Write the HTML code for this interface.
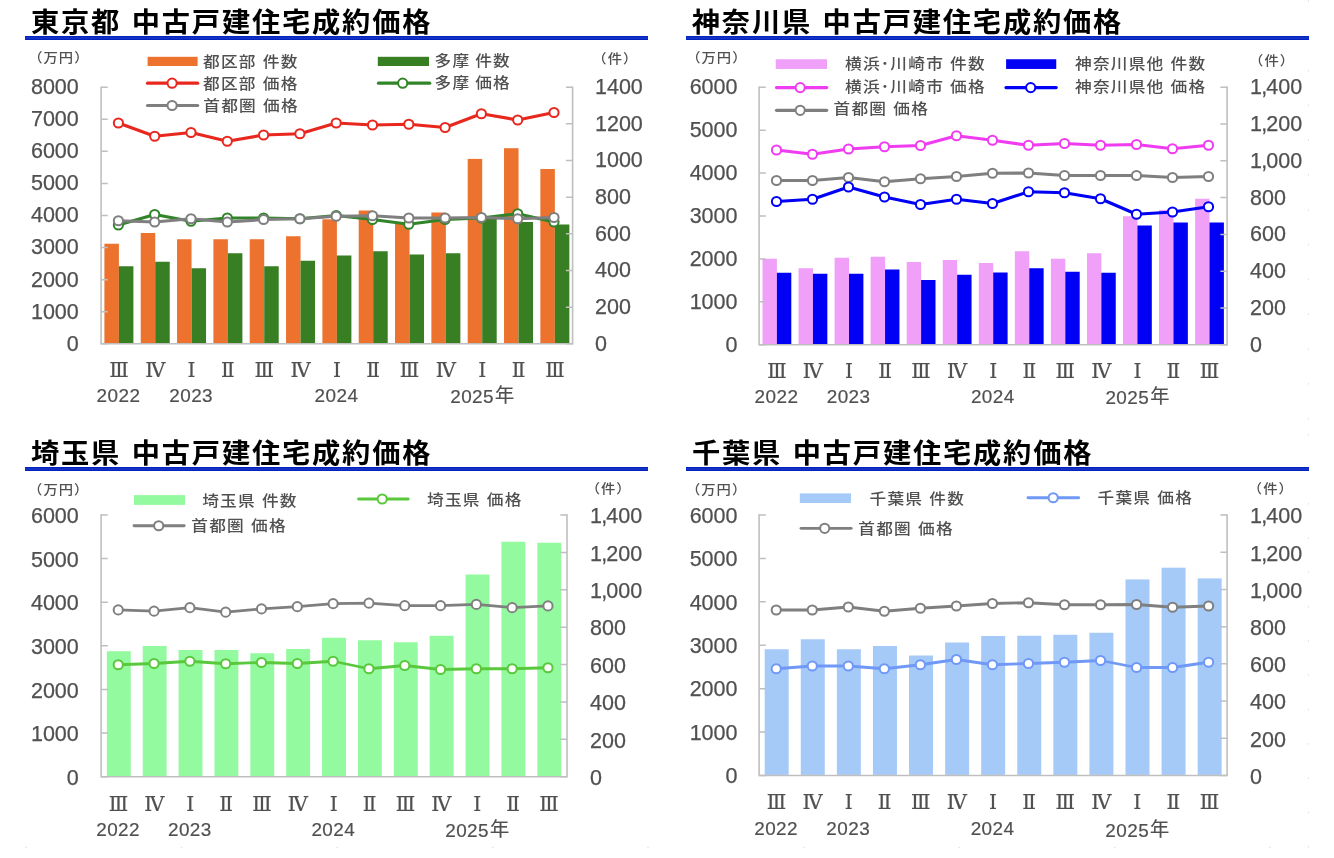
<!DOCTYPE html>
<html lang="ja"><head><meta charset="utf-8"><title>中古戸建住宅成約価格</title>
<style>html,body{margin:0;padding:0;background:#fff;overflow:hidden}svg{display:block}</style></head><body>
<svg width="1334" height="858" viewBox="0 0 1334 858">
<rect width="1334" height="858" fill="#fff"/>
<g>
<text transform="translate(31 32) scale(1.05 1)" font-size="26.9" fill="#000" font-family='"Liberation Sans","Noto Sans CJK JP",sans-serif' font-weight="bold" letter-spacing="1.72" word-spacing="0.9" xml:space="preserve">東京都 中古戸建住宅成約価格</text>
<rect x="25" y="36" width="623" height="4" fill="#0422c0"/>
<rect x="25" y="37" width="623" height="2" fill="#1232c4"/>
<rect x="104.4" y="243.75" width="14.5" height="99.45" fill="#ec722e"/>
<rect x="140.73" y="233" width="14.5" height="110.2" fill="#ec722e"/>
<rect x="177.06" y="239.25" width="14.5" height="103.95" fill="#ec722e"/>
<rect x="213.39" y="239.25" width="14.5" height="103.95" fill="#ec722e"/>
<rect x="249.72" y="239.25" width="14.5" height="103.95" fill="#ec722e"/>
<rect x="286.05" y="236.25" width="14.5" height="106.95" fill="#ec722e"/>
<rect x="322.38" y="219.3" width="14.5" height="123.9" fill="#ec722e"/>
<rect x="358.71" y="210.5" width="14.5" height="132.7" fill="#ec722e"/>
<rect x="395.04" y="223.5" width="14.5" height="119.7" fill="#ec722e"/>
<rect x="431.37" y="212.5" width="14.5" height="130.7" fill="#ec722e"/>
<rect x="467.7" y="158.9" width="14.5" height="184.3" fill="#ec722e"/>
<rect x="504.03" y="148.2" width="14.5" height="195" fill="#ec722e"/>
<rect x="540.36" y="169" width="14.5" height="174.2" fill="#ec722e"/>
<rect x="118.9" y="266.25" width="14.5" height="76.95" fill="#387e22"/>
<rect x="155.23" y="261.75" width="14.5" height="81.45" fill="#387e22"/>
<rect x="191.56" y="268.25" width="14.5" height="74.95" fill="#387e22"/>
<rect x="227.89" y="253.25" width="14.5" height="89.95" fill="#387e22"/>
<rect x="264.22" y="266.25" width="14.5" height="76.95" fill="#387e22"/>
<rect x="300.55" y="260.75" width="14.5" height="82.45" fill="#387e22"/>
<rect x="336.88" y="255.5" width="14.5" height="87.7" fill="#387e22"/>
<rect x="373.21" y="251.25" width="14.5" height="91.95" fill="#387e22"/>
<rect x="409.54" y="254.5" width="14.5" height="88.7" fill="#387e22"/>
<rect x="445.87" y="253.25" width="14.5" height="89.95" fill="#387e22"/>
<rect x="482.2" y="218.75" width="14.5" height="124.45" fill="#387e22"/>
<rect x="518.53" y="222" width="14.5" height="121.2" fill="#387e22"/>
<rect x="554.86" y="224.5" width="14.5" height="118.7" fill="#387e22"/>
<path d="M101.1 86.4V343.8M572.6 86.4V343.8M100.3 343.8H573.4" stroke="#bfbfbf" stroke-width="1.6" fill="none"/>
<path d="M101.1 343.8h6.7M101.1 311.73h6.7M101.1 279.65h6.7M101.1 247.57h6.7M101.1 215.5h6.7M101.1 183.43h6.7M101.1 151.35h6.7M101.1 119.27h6.7M101.1 87.2h6.7M572.6 343.8h-6.7M572.6 307.14h-6.7M572.6 270.49h-6.7M572.6 233.83h-6.7M572.6 197.17h-6.7M572.6 160.51h-6.7M572.6 123.86h-6.7M572.6 87.2h-6.7" stroke="#bfbfbf" stroke-width="1.5" fill="none"/>
<text x="78.8" y="350.7" font-size="21.5" fill="#505050" font-family='"Liberation Sans","Noto Sans CJK JP",sans-serif' text-anchor="end" stroke="#505050" stroke-width="0.25">0</text>
<text x="78.8" y="318.62" font-size="21.5" fill="#505050" font-family='"Liberation Sans","Noto Sans CJK JP",sans-serif' text-anchor="end" stroke="#505050" stroke-width="0.25">1000</text>
<text x="78.8" y="286.55" font-size="21.5" fill="#505050" font-family='"Liberation Sans","Noto Sans CJK JP",sans-serif' text-anchor="end" stroke="#505050" stroke-width="0.25">2000</text>
<text x="78.8" y="254.47" font-size="21.5" fill="#505050" font-family='"Liberation Sans","Noto Sans CJK JP",sans-serif' text-anchor="end" stroke="#505050" stroke-width="0.25">3000</text>
<text x="78.8" y="222.4" font-size="21.5" fill="#505050" font-family='"Liberation Sans","Noto Sans CJK JP",sans-serif' text-anchor="end" stroke="#505050" stroke-width="0.25">4000</text>
<text x="78.8" y="190.33" font-size="21.5" fill="#505050" font-family='"Liberation Sans","Noto Sans CJK JP",sans-serif' text-anchor="end" stroke="#505050" stroke-width="0.25">5000</text>
<text x="78.8" y="158.25" font-size="21.5" fill="#505050" font-family='"Liberation Sans","Noto Sans CJK JP",sans-serif' text-anchor="end" stroke="#505050" stroke-width="0.25">6000</text>
<text x="78.8" y="126.17" font-size="21.5" fill="#505050" font-family='"Liberation Sans","Noto Sans CJK JP",sans-serif' text-anchor="end" stroke="#505050" stroke-width="0.25">7000</text>
<text x="78.8" y="94.1" font-size="21.5" fill="#505050" font-family='"Liberation Sans","Noto Sans CJK JP",sans-serif' text-anchor="end" stroke="#505050" stroke-width="0.25">8000</text>
<text x="595" y="350.7" font-size="21.5" fill="#505050" font-family='"Liberation Sans","Noto Sans CJK JP",sans-serif' stroke="#505050" stroke-width="0.25">0</text>
<text x="595" y="314.04" font-size="21.5" fill="#505050" font-family='"Liberation Sans","Noto Sans CJK JP",sans-serif' stroke="#505050" stroke-width="0.25">200</text>
<text x="595" y="277.39" font-size="21.5" fill="#505050" font-family='"Liberation Sans","Noto Sans CJK JP",sans-serif' stroke="#505050" stroke-width="0.25">400</text>
<text x="595" y="240.73" font-size="21.5" fill="#505050" font-family='"Liberation Sans","Noto Sans CJK JP",sans-serif' stroke="#505050" stroke-width="0.25">600</text>
<text x="595" y="204.07" font-size="21.5" fill="#505050" font-family='"Liberation Sans","Noto Sans CJK JP",sans-serif' stroke="#505050" stroke-width="0.25">800</text>
<text x="595" y="167.41" font-size="21.5" fill="#505050" font-family='"Liberation Sans","Noto Sans CJK JP",sans-serif' stroke="#505050" stroke-width="0.25">1000</text>
<text x="595" y="130.76" font-size="21.5" fill="#505050" font-family='"Liberation Sans","Noto Sans CJK JP",sans-serif' stroke="#505050" stroke-width="0.25">1200</text>
<text x="595" y="94.1" font-size="21.5" fill="#505050" font-family='"Liberation Sans","Noto Sans CJK JP",sans-serif' stroke="#505050" stroke-width="0.25">1400</text>
<text transform="translate(28.2 61.7) scale(1.1 1)" font-size="13" fill="#505050" font-family='"Liberation Sans","Noto Sans CJK JP",sans-serif' font-weight="500" letter-spacing="0.95">（万円）</text>
<text transform="translate(592.3 62.6) scale(1.1 1)" font-size="13" fill="#505050" font-family='"Liberation Sans","Noto Sans CJK JP",sans-serif' font-weight="500" letter-spacing="0.95">（件）</text>
<text x="118.9" y="376.6" font-size="20.2" fill="#505050" font-family='"DejaVu Serif","Noto Serif CJK SC",serif' text-anchor="middle" stroke="#505050" stroke-width="0.2">Ⅲ</text>
<text x="155.23" y="376.6" font-size="20.2" fill="#505050" font-family='"DejaVu Serif","Noto Serif CJK SC",serif' text-anchor="middle" stroke="#505050" stroke-width="0.2">Ⅳ</text>
<text x="191.56" y="376.6" font-size="20.2" fill="#505050" font-family='"DejaVu Serif","Noto Serif CJK SC",serif' text-anchor="middle" stroke="#505050" stroke-width="0.2">Ⅰ</text>
<text x="227.89" y="376.6" font-size="20.2" fill="#505050" font-family='"DejaVu Serif","Noto Serif CJK SC",serif' text-anchor="middle" stroke="#505050" stroke-width="0.2">Ⅱ</text>
<text x="264.22" y="376.6" font-size="20.2" fill="#505050" font-family='"DejaVu Serif","Noto Serif CJK SC",serif' text-anchor="middle" stroke="#505050" stroke-width="0.2">Ⅲ</text>
<text x="300.55" y="376.6" font-size="20.2" fill="#505050" font-family='"DejaVu Serif","Noto Serif CJK SC",serif' text-anchor="middle" stroke="#505050" stroke-width="0.2">Ⅳ</text>
<text x="336.88" y="376.6" font-size="20.2" fill="#505050" font-family='"DejaVu Serif","Noto Serif CJK SC",serif' text-anchor="middle" stroke="#505050" stroke-width="0.2">Ⅰ</text>
<text x="373.21" y="376.6" font-size="20.2" fill="#505050" font-family='"DejaVu Serif","Noto Serif CJK SC",serif' text-anchor="middle" stroke="#505050" stroke-width="0.2">Ⅱ</text>
<text x="409.54" y="376.6" font-size="20.2" fill="#505050" font-family='"DejaVu Serif","Noto Serif CJK SC",serif' text-anchor="middle" stroke="#505050" stroke-width="0.2">Ⅲ</text>
<text x="445.87" y="376.6" font-size="20.2" fill="#505050" font-family='"DejaVu Serif","Noto Serif CJK SC",serif' text-anchor="middle" stroke="#505050" stroke-width="0.2">Ⅳ</text>
<text x="482.2" y="376.6" font-size="20.2" fill="#505050" font-family='"DejaVu Serif","Noto Serif CJK SC",serif' text-anchor="middle" stroke="#505050" stroke-width="0.2">Ⅰ</text>
<text x="518.53" y="376.6" font-size="20.2" fill="#505050" font-family='"DejaVu Serif","Noto Serif CJK SC",serif' text-anchor="middle" stroke="#505050" stroke-width="0.2">Ⅱ</text>
<text x="554.86" y="376.6" font-size="20.2" fill="#505050" font-family='"DejaVu Serif","Noto Serif CJK SC",serif' text-anchor="middle" stroke="#505050" stroke-width="0.2">Ⅲ</text>
<text x="118.5" y="401.9" font-size="18.9" fill="#505050" font-family='"Liberation Sans","Noto Sans CJK JP",sans-serif' text-anchor="middle" letter-spacing="0.45" stroke="#505050" stroke-width="0.2">2022</text>
<text x="191.16" y="401.9" font-size="18.9" fill="#505050" font-family='"Liberation Sans","Noto Sans CJK JP",sans-serif' text-anchor="middle" letter-spacing="0.45" stroke="#505050" stroke-width="0.2">2023</text>
<text x="336.48" y="401.9" font-size="18.9" fill="#505050" font-family='"Liberation Sans","Noto Sans CJK JP",sans-serif' text-anchor="middle" letter-spacing="0.45" stroke="#505050" stroke-width="0.2">2024</text>
<text x="482.4" y="403.3" font-size="18.9" fill="#505050" font-family='"Liberation Sans","Noto Sans CJK JP",sans-serif' text-anchor="middle" letter-spacing="0.45" stroke="#505050" stroke-width="0.2">2025<tspan font-size="19.2" dx="0.9" dy="-1">年</tspan></text>
<polyline points="118.4,123 154.7,136.25 191,132.5 227.3,141.25 263.6,135 299.9,133.75 336.2,123 372.5,125 408.8,124.25 445.1,127.5 481.4,113.75 517.7,120 554,112.5" fill="none" stroke="#e8281e" stroke-width="3.2" stroke-linejoin="round" stroke-linecap="round"/>
<circle cx="118.4" cy="123" r="4.6" fill="#fff" stroke="#e8281e" stroke-width="2"/>
<circle cx="154.7" cy="136.25" r="4.6" fill="#fff" stroke="#e8281e" stroke-width="2"/>
<circle cx="191" cy="132.5" r="4.6" fill="#fff" stroke="#e8281e" stroke-width="2"/>
<circle cx="227.3" cy="141.25" r="4.6" fill="#fff" stroke="#e8281e" stroke-width="2"/>
<circle cx="263.6" cy="135" r="4.6" fill="#fff" stroke="#e8281e" stroke-width="2"/>
<circle cx="299.9" cy="133.75" r="4.6" fill="#fff" stroke="#e8281e" stroke-width="2"/>
<circle cx="336.2" cy="123" r="4.6" fill="#fff" stroke="#e8281e" stroke-width="2"/>
<circle cx="372.5" cy="125" r="4.6" fill="#fff" stroke="#e8281e" stroke-width="2"/>
<circle cx="408.8" cy="124.25" r="4.6" fill="#fff" stroke="#e8281e" stroke-width="2"/>
<circle cx="445.1" cy="127.5" r="4.6" fill="#fff" stroke="#e8281e" stroke-width="2"/>
<circle cx="481.4" cy="113.75" r="4.6" fill="#fff" stroke="#e8281e" stroke-width="2"/>
<circle cx="517.7" cy="120" r="4.6" fill="#fff" stroke="#e8281e" stroke-width="2"/>
<circle cx="554" cy="112.5" r="4.6" fill="#fff" stroke="#e8281e" stroke-width="2"/>
<polyline points="118.4,225 154.7,214.5 191,221.25 227.3,218 263.6,218 299.9,218.75 336.2,215.5 372.5,219.5 408.8,224.25 445.1,219.5 481.4,218 517.7,213.75 554,222" fill="none" stroke="#32842a" stroke-width="3.2" stroke-linejoin="round" stroke-linecap="round"/>
<circle cx="118.4" cy="225" r="4.6" fill="#fff" stroke="#32842a" stroke-width="2"/>
<circle cx="154.7" cy="214.5" r="4.6" fill="#fff" stroke="#32842a" stroke-width="2"/>
<circle cx="191" cy="221.25" r="4.6" fill="#fff" stroke="#32842a" stroke-width="2"/>
<circle cx="227.3" cy="218" r="4.6" fill="#fff" stroke="#32842a" stroke-width="2"/>
<circle cx="263.6" cy="218" r="4.6" fill="#fff" stroke="#32842a" stroke-width="2"/>
<circle cx="299.9" cy="218.75" r="4.6" fill="#fff" stroke="#32842a" stroke-width="2"/>
<circle cx="336.2" cy="215.5" r="4.6" fill="#fff" stroke="#32842a" stroke-width="2"/>
<circle cx="372.5" cy="219.5" r="4.6" fill="#fff" stroke="#32842a" stroke-width="2"/>
<circle cx="408.8" cy="224.25" r="4.6" fill="#fff" stroke="#32842a" stroke-width="2"/>
<circle cx="445.1" cy="219.5" r="4.6" fill="#fff" stroke="#32842a" stroke-width="2"/>
<circle cx="481.4" cy="218" r="4.6" fill="#fff" stroke="#32842a" stroke-width="2"/>
<circle cx="517.7" cy="213.75" r="4.6" fill="#fff" stroke="#32842a" stroke-width="2"/>
<circle cx="554" cy="222" r="4.6" fill="#fff" stroke="#32842a" stroke-width="2"/>
<polyline points="118.4,220.75 154.7,222 191,218.75 227.3,222 263.6,219.5 299.9,218.75 336.2,216.25 372.5,215.75 408.8,218 445.1,218 481.4,217.5 517.7,218.75 554,217.5" fill="none" stroke="#7f7f7f" stroke-width="3.2" stroke-linejoin="round" stroke-linecap="round"/>
<circle cx="118.4" cy="220.75" r="4.6" fill="#fff" stroke="#7f7f7f" stroke-width="2"/>
<circle cx="154.7" cy="222" r="4.6" fill="#fff" stroke="#7f7f7f" stroke-width="2"/>
<circle cx="191" cy="218.75" r="4.6" fill="#fff" stroke="#7f7f7f" stroke-width="2"/>
<circle cx="227.3" cy="222" r="4.6" fill="#fff" stroke="#7f7f7f" stroke-width="2"/>
<circle cx="263.6" cy="219.5" r="4.6" fill="#fff" stroke="#7f7f7f" stroke-width="2"/>
<circle cx="299.9" cy="218.75" r="4.6" fill="#fff" stroke="#7f7f7f" stroke-width="2"/>
<circle cx="336.2" cy="216.25" r="4.6" fill="#fff" stroke="#7f7f7f" stroke-width="2"/>
<circle cx="372.5" cy="215.75" r="4.6" fill="#fff" stroke="#7f7f7f" stroke-width="2"/>
<circle cx="408.8" cy="218" r="4.6" fill="#fff" stroke="#7f7f7f" stroke-width="2"/>
<circle cx="445.1" cy="218" r="4.6" fill="#fff" stroke="#7f7f7f" stroke-width="2"/>
<circle cx="481.4" cy="217.5" r="4.6" fill="#fff" stroke="#7f7f7f" stroke-width="2"/>
<circle cx="517.7" cy="218.75" r="4.6" fill="#fff" stroke="#7f7f7f" stroke-width="2"/>
<circle cx="554" cy="217.5" r="4.6" fill="#fff" stroke="#7f7f7f" stroke-width="2"/>
<rect x="147.6" y="56.8" width="50" height="9.2" fill="#ec722e"/>
<text transform="translate(203 66.9) scale(1.09 1)" font-size="15.3" fill="#505050" font-family='"Liberation Sans","Noto Sans CJK JP",sans-serif' font-weight="500" letter-spacing="1.12" word-spacing="0.2" xml:space="preserve">都区部 件数</text>
<rect x="377.8" y="56.8" width="51.2" height="9.2" fill="#387e22"/>
<text transform="translate(434.6 66.2) scale(1.09 1)" font-size="15.3" fill="#505050" font-family='"Liberation Sans","Noto Sans CJK JP",sans-serif' font-weight="500" letter-spacing="1.12" word-spacing="-1" xml:space="preserve">多摩 件数</text>
<line x1="147.5" y1="83.2" x2="197.7" y2="83.2" stroke="#e8281e" stroke-width="3.2" stroke-linecap="round"/>
<circle cx="172.1" cy="83.2" r="4.6" fill="#fff" stroke="#e8281e" stroke-width="2"/>
<text transform="translate(203 88.7) scale(1.09 1)" font-size="15.3" fill="#505050" font-family='"Liberation Sans","Noto Sans CJK JP",sans-serif' font-weight="500" letter-spacing="1.12" word-spacing="0.2" xml:space="preserve">都区部 価格</text>
<line x1="378.5" y1="83.2" x2="429.7" y2="83.2" stroke="#32842a" stroke-width="3.2" stroke-linecap="round"/>
<circle cx="402.7" cy="83.2" r="4.6" fill="#fff" stroke="#32842a" stroke-width="2"/>
<text transform="translate(434.6 88) scale(1.09 1)" font-size="15.3" fill="#505050" font-family='"Liberation Sans","Noto Sans CJK JP",sans-serif' font-weight="500" letter-spacing="1.12" word-spacing="-1" xml:space="preserve">多摩 価格</text>
<line x1="147.5" y1="105.5" x2="197.7" y2="105.5" stroke="#7f7f7f" stroke-width="3.2" stroke-linecap="round"/>
<circle cx="172.1" cy="105.5" r="4.6" fill="#fff" stroke="#7f7f7f" stroke-width="2"/>
<text transform="translate(203.3 111) scale(1.09 1)" font-size="15.3" fill="#505050" font-family='"Liberation Sans","Noto Sans CJK JP",sans-serif' font-weight="500" letter-spacing="1.12" word-spacing="0.2" xml:space="preserve">首都圏 価格</text>
</g>
<g>
<text transform="translate(691.8 32) scale(1.05 1)" font-size="26.9" fill="#000" font-family='"Liberation Sans","Noto Sans CJK JP",sans-serif' font-weight="bold" letter-spacing="1.72" word-spacing="0.9" xml:space="preserve">神奈川県 中古戸建住宅成約価格</text>
<rect x="686" y="36" width="623" height="4" fill="#0422c0"/>
<rect x="686" y="37" width="623" height="2" fill="#1232c4"/>
<rect x="762.5" y="258.75" width="14.4" height="85.45" fill="#f0a0f8"/>
<rect x="798.55" y="268.25" width="14.4" height="75.95" fill="#f0a0f8"/>
<rect x="834.6" y="257.75" width="14.4" height="86.45" fill="#f0a0f8"/>
<rect x="870.65" y="256.75" width="14.4" height="87.45" fill="#f0a0f8"/>
<rect x="906.7" y="262" width="14.4" height="82.2" fill="#f0a0f8"/>
<rect x="942.75" y="260" width="14.4" height="84.2" fill="#f0a0f8"/>
<rect x="978.8" y="263" width="14.4" height="81.2" fill="#f0a0f8"/>
<rect x="1014.85" y="251.25" width="14.4" height="92.95" fill="#f0a0f8"/>
<rect x="1050.9" y="258.75" width="14.4" height="85.45" fill="#f0a0f8"/>
<rect x="1086.95" y="253.25" width="14.4" height="90.95" fill="#f0a0f8"/>
<rect x="1123" y="216.25" width="14.4" height="127.95" fill="#f0a0f8"/>
<rect x="1159.05" y="210" width="14.4" height="134.2" fill="#f0a0f8"/>
<rect x="1195.1" y="198.75" width="14.4" height="145.45" fill="#f0a0f8"/>
<rect x="776.9" y="272.75" width="14.4" height="71.45" fill="#0000f5"/>
<rect x="812.95" y="273.75" width="14.4" height="70.45" fill="#0000f5"/>
<rect x="849" y="273.75" width="14.4" height="70.45" fill="#0000f5"/>
<rect x="885.05" y="269.5" width="14.4" height="74.7" fill="#0000f5"/>
<rect x="921.1" y="280" width="14.4" height="64.2" fill="#0000f5"/>
<rect x="957.15" y="274.75" width="14.4" height="69.45" fill="#0000f5"/>
<rect x="993.2" y="272.5" width="14.4" height="71.7" fill="#0000f5"/>
<rect x="1029.25" y="268.25" width="14.4" height="75.95" fill="#0000f5"/>
<rect x="1065.3" y="271.75" width="14.4" height="72.45" fill="#0000f5"/>
<rect x="1101.35" y="272.75" width="14.4" height="71.45" fill="#0000f5"/>
<rect x="1137.4" y="225.5" width="14.4" height="118.7" fill="#0000f5"/>
<rect x="1173.45" y="222.5" width="14.4" height="121.7" fill="#0000f5"/>
<rect x="1209.5" y="222.5" width="14.4" height="121.7" fill="#0000f5"/>
<path d="M759.1 86.4V344.8M1227.1 86.4V344.8M758.3 344.8H1227.9" stroke="#bfbfbf" stroke-width="1.6" fill="none"/>
<path d="M759.1 344.8h6.7M759.1 301.87h6.7M759.1 258.93h6.7M759.1 216h6.7M759.1 173.07h6.7M759.1 130.13h6.7M759.1 87.2h6.7M1227.1 344.8h-6.7M1227.1 308h-6.7M1227.1 271.2h-6.7M1227.1 234.4h-6.7M1227.1 197.6h-6.7M1227.1 160.8h-6.7M1227.1 124h-6.7M1227.1 87.2h-6.7" stroke="#bfbfbf" stroke-width="1.5" fill="none"/>
<text x="737.5" y="351.7" font-size="21.5" fill="#505050" font-family='"Liberation Sans","Noto Sans CJK JP",sans-serif' text-anchor="end" stroke="#505050" stroke-width="0.25">0</text>
<text x="737.5" y="308.77" font-size="21.5" fill="#505050" font-family='"Liberation Sans","Noto Sans CJK JP",sans-serif' text-anchor="end" stroke="#505050" stroke-width="0.25">1000</text>
<text x="737.5" y="265.83" font-size="21.5" fill="#505050" font-family='"Liberation Sans","Noto Sans CJK JP",sans-serif' text-anchor="end" stroke="#505050" stroke-width="0.25">2000</text>
<text x="737.5" y="222.9" font-size="21.5" fill="#505050" font-family='"Liberation Sans","Noto Sans CJK JP",sans-serif' text-anchor="end" stroke="#505050" stroke-width="0.25">3000</text>
<text x="737.5" y="179.97" font-size="21.5" fill="#505050" font-family='"Liberation Sans","Noto Sans CJK JP",sans-serif' text-anchor="end" stroke="#505050" stroke-width="0.25">4000</text>
<text x="737.5" y="137.03" font-size="21.5" fill="#505050" font-family='"Liberation Sans","Noto Sans CJK JP",sans-serif' text-anchor="end" stroke="#505050" stroke-width="0.25">5000</text>
<text x="737.5" y="94.1" font-size="21.5" fill="#505050" font-family='"Liberation Sans","Noto Sans CJK JP",sans-serif' text-anchor="end" stroke="#505050" stroke-width="0.25">6000</text>
<text x="1250" y="351.7" font-size="21.5" fill="#505050" font-family='"Liberation Sans","Noto Sans CJK JP",sans-serif' stroke="#505050" stroke-width="0.25">0</text>
<text x="1250" y="314.9" font-size="21.5" fill="#505050" font-family='"Liberation Sans","Noto Sans CJK JP",sans-serif' stroke="#505050" stroke-width="0.25">200</text>
<text x="1250" y="278.1" font-size="21.5" fill="#505050" font-family='"Liberation Sans","Noto Sans CJK JP",sans-serif' stroke="#505050" stroke-width="0.25">400</text>
<text x="1250" y="241.3" font-size="21.5" fill="#505050" font-family='"Liberation Sans","Noto Sans CJK JP",sans-serif' stroke="#505050" stroke-width="0.25">600</text>
<text x="1250" y="204.5" font-size="21.5" fill="#505050" font-family='"Liberation Sans","Noto Sans CJK JP",sans-serif' stroke="#505050" stroke-width="0.25">800</text>
<text x="1250" y="167.7" font-size="21.5" fill="#505050" font-family='"Liberation Sans","Noto Sans CJK JP",sans-serif' stroke="#505050" stroke-width="0.25">1<tspan dx="-0.7">,</tspan><tspan dx="-0.9">000</tspan></text>
<text x="1250" y="130.9" font-size="21.5" fill="#505050" font-family='"Liberation Sans","Noto Sans CJK JP",sans-serif' stroke="#505050" stroke-width="0.25">1<tspan dx="-0.7">,</tspan><tspan dx="-0.9">200</tspan></text>
<text x="1250" y="94.1" font-size="21.5" fill="#505050" font-family='"Liberation Sans","Noto Sans CJK JP",sans-serif' stroke="#505050" stroke-width="0.25">1<tspan dx="-0.7">,</tspan><tspan dx="-0.9">400</tspan></text>
<text transform="translate(686.2 61.8) scale(1.1 1)" font-size="13" fill="#505050" font-family='"Liberation Sans","Noto Sans CJK JP",sans-serif' font-weight="500" letter-spacing="0.95">（万円）</text>
<text transform="translate(1249.1 65.4) scale(1.1 1)" font-size="13" fill="#505050" font-family='"Liberation Sans","Noto Sans CJK JP",sans-serif' font-weight="500" letter-spacing="0.95">（件）</text>
<text x="776.9" y="377.5" font-size="20.2" fill="#505050" font-family='"DejaVu Serif","Noto Serif CJK SC",serif' text-anchor="middle" stroke="#505050" stroke-width="0.2">Ⅲ</text>
<text x="812.95" y="377.5" font-size="20.2" fill="#505050" font-family='"DejaVu Serif","Noto Serif CJK SC",serif' text-anchor="middle" stroke="#505050" stroke-width="0.2">Ⅳ</text>
<text x="849" y="377.5" font-size="20.2" fill="#505050" font-family='"DejaVu Serif","Noto Serif CJK SC",serif' text-anchor="middle" stroke="#505050" stroke-width="0.2">Ⅰ</text>
<text x="885.05" y="377.5" font-size="20.2" fill="#505050" font-family='"DejaVu Serif","Noto Serif CJK SC",serif' text-anchor="middle" stroke="#505050" stroke-width="0.2">Ⅱ</text>
<text x="921.1" y="377.5" font-size="20.2" fill="#505050" font-family='"DejaVu Serif","Noto Serif CJK SC",serif' text-anchor="middle" stroke="#505050" stroke-width="0.2">Ⅲ</text>
<text x="957.15" y="377.5" font-size="20.2" fill="#505050" font-family='"DejaVu Serif","Noto Serif CJK SC",serif' text-anchor="middle" stroke="#505050" stroke-width="0.2">Ⅳ</text>
<text x="993.2" y="377.5" font-size="20.2" fill="#505050" font-family='"DejaVu Serif","Noto Serif CJK SC",serif' text-anchor="middle" stroke="#505050" stroke-width="0.2">Ⅰ</text>
<text x="1029.25" y="377.5" font-size="20.2" fill="#505050" font-family='"DejaVu Serif","Noto Serif CJK SC",serif' text-anchor="middle" stroke="#505050" stroke-width="0.2">Ⅱ</text>
<text x="1065.3" y="377.5" font-size="20.2" fill="#505050" font-family='"DejaVu Serif","Noto Serif CJK SC",serif' text-anchor="middle" stroke="#505050" stroke-width="0.2">Ⅲ</text>
<text x="1101.35" y="377.5" font-size="20.2" fill="#505050" font-family='"DejaVu Serif","Noto Serif CJK SC",serif' text-anchor="middle" stroke="#505050" stroke-width="0.2">Ⅳ</text>
<text x="1137.4" y="377.5" font-size="20.2" fill="#505050" font-family='"DejaVu Serif","Noto Serif CJK SC",serif' text-anchor="middle" stroke="#505050" stroke-width="0.2">Ⅰ</text>
<text x="1173.45" y="377.5" font-size="20.2" fill="#505050" font-family='"DejaVu Serif","Noto Serif CJK SC",serif' text-anchor="middle" stroke="#505050" stroke-width="0.2">Ⅱ</text>
<text x="1209.5" y="377.5" font-size="20.2" fill="#505050" font-family='"DejaVu Serif","Noto Serif CJK SC",serif' text-anchor="middle" stroke="#505050" stroke-width="0.2">Ⅲ</text>
<text x="776.5" y="403" font-size="18.9" fill="#505050" font-family='"Liberation Sans","Noto Sans CJK JP",sans-serif' text-anchor="middle" letter-spacing="0.45" stroke="#505050" stroke-width="0.2">2022</text>
<text x="848.6" y="403" font-size="18.9" fill="#505050" font-family='"Liberation Sans","Noto Sans CJK JP",sans-serif' text-anchor="middle" letter-spacing="0.45" stroke="#505050" stroke-width="0.2">2023</text>
<text x="992.8" y="403" font-size="18.9" fill="#505050" font-family='"Liberation Sans","Noto Sans CJK JP",sans-serif' text-anchor="middle" letter-spacing="0.45" stroke="#505050" stroke-width="0.2">2024</text>
<text x="1137.6" y="404.4" font-size="18.9" fill="#505050" font-family='"Liberation Sans","Noto Sans CJK JP",sans-serif' text-anchor="middle" letter-spacing="0.45" stroke="#505050" stroke-width="0.2">2025<tspan font-size="19.2" dx="0.9" dy="-1">年</tspan></text>
<polyline points="776.5,150 812.5,154.25 848.5,149 884.5,146.75 920.5,145.5 956.5,135.75 992.5,140.25 1028.5,145.25 1064.5,143.5 1100.5,145.25 1136.5,144.5 1172.5,148.75 1208.5,145.25" fill="none" stroke="#f03cf0" stroke-width="3.2" stroke-linejoin="round" stroke-linecap="round"/>
<circle cx="776.5" cy="150" r="4.6" fill="#fff" stroke="#f03cf0" stroke-width="2"/>
<circle cx="812.5" cy="154.25" r="4.6" fill="#fff" stroke="#f03cf0" stroke-width="2"/>
<circle cx="848.5" cy="149" r="4.6" fill="#fff" stroke="#f03cf0" stroke-width="2"/>
<circle cx="884.5" cy="146.75" r="4.6" fill="#fff" stroke="#f03cf0" stroke-width="2"/>
<circle cx="920.5" cy="145.5" r="4.6" fill="#fff" stroke="#f03cf0" stroke-width="2"/>
<circle cx="956.5" cy="135.75" r="4.6" fill="#fff" stroke="#f03cf0" stroke-width="2"/>
<circle cx="992.5" cy="140.25" r="4.6" fill="#fff" stroke="#f03cf0" stroke-width="2"/>
<circle cx="1028.5" cy="145.25" r="4.6" fill="#fff" stroke="#f03cf0" stroke-width="2"/>
<circle cx="1064.5" cy="143.5" r="4.6" fill="#fff" stroke="#f03cf0" stroke-width="2"/>
<circle cx="1100.5" cy="145.25" r="4.6" fill="#fff" stroke="#f03cf0" stroke-width="2"/>
<circle cx="1136.5" cy="144.5" r="4.6" fill="#fff" stroke="#f03cf0" stroke-width="2"/>
<circle cx="1172.5" cy="148.75" r="4.6" fill="#fff" stroke="#f03cf0" stroke-width="2"/>
<circle cx="1208.5" cy="145.25" r="4.6" fill="#fff" stroke="#f03cf0" stroke-width="2"/>
<polyline points="776.5,180.5 812.5,180.5 848.5,177.5 884.5,181.75 920.5,178.75 956.5,176.5 992.5,173.25 1028.5,173 1064.5,175.5 1100.5,175.5 1136.5,175.5 1172.5,177.5 1208.5,176.5" fill="none" stroke="#7f7f7f" stroke-width="3.2" stroke-linejoin="round" stroke-linecap="round"/>
<circle cx="776.5" cy="180.5" r="4.6" fill="#fff" stroke="#7f7f7f" stroke-width="2"/>
<circle cx="812.5" cy="180.5" r="4.6" fill="#fff" stroke="#7f7f7f" stroke-width="2"/>
<circle cx="848.5" cy="177.5" r="4.6" fill="#fff" stroke="#7f7f7f" stroke-width="2"/>
<circle cx="884.5" cy="181.75" r="4.6" fill="#fff" stroke="#7f7f7f" stroke-width="2"/>
<circle cx="920.5" cy="178.75" r="4.6" fill="#fff" stroke="#7f7f7f" stroke-width="2"/>
<circle cx="956.5" cy="176.5" r="4.6" fill="#fff" stroke="#7f7f7f" stroke-width="2"/>
<circle cx="992.5" cy="173.25" r="4.6" fill="#fff" stroke="#7f7f7f" stroke-width="2"/>
<circle cx="1028.5" cy="173" r="4.6" fill="#fff" stroke="#7f7f7f" stroke-width="2"/>
<circle cx="1064.5" cy="175.5" r="4.6" fill="#fff" stroke="#7f7f7f" stroke-width="2"/>
<circle cx="1100.5" cy="175.5" r="4.6" fill="#fff" stroke="#7f7f7f" stroke-width="2"/>
<circle cx="1136.5" cy="175.5" r="4.6" fill="#fff" stroke="#7f7f7f" stroke-width="2"/>
<circle cx="1172.5" cy="177.5" r="4.6" fill="#fff" stroke="#7f7f7f" stroke-width="2"/>
<circle cx="1208.5" cy="176.5" r="4.6" fill="#fff" stroke="#7f7f7f" stroke-width="2"/>
<polyline points="776.5,201.5 812.5,199.25 848.5,187 884.5,197 920.5,204.5 956.5,199.25 992.5,203.5 1028.5,191.75 1064.5,192.75 1100.5,198.75 1136.5,214.25 1172.5,212 1208.5,206.75" fill="none" stroke="#0000f5" stroke-width="3.2" stroke-linejoin="round" stroke-linecap="round"/>
<circle cx="776.5" cy="201.5" r="4.6" fill="#fff" stroke="#0000f5" stroke-width="2"/>
<circle cx="812.5" cy="199.25" r="4.6" fill="#fff" stroke="#0000f5" stroke-width="2"/>
<circle cx="848.5" cy="187" r="4.6" fill="#fff" stroke="#0000f5" stroke-width="2"/>
<circle cx="884.5" cy="197" r="4.6" fill="#fff" stroke="#0000f5" stroke-width="2"/>
<circle cx="920.5" cy="204.5" r="4.6" fill="#fff" stroke="#0000f5" stroke-width="2"/>
<circle cx="956.5" cy="199.25" r="4.6" fill="#fff" stroke="#0000f5" stroke-width="2"/>
<circle cx="992.5" cy="203.5" r="4.6" fill="#fff" stroke="#0000f5" stroke-width="2"/>
<circle cx="1028.5" cy="191.75" r="4.6" fill="#fff" stroke="#0000f5" stroke-width="2"/>
<circle cx="1064.5" cy="192.75" r="4.6" fill="#fff" stroke="#0000f5" stroke-width="2"/>
<circle cx="1100.5" cy="198.75" r="4.6" fill="#fff" stroke="#0000f5" stroke-width="2"/>
<circle cx="1136.5" cy="214.25" r="4.6" fill="#fff" stroke="#0000f5" stroke-width="2"/>
<circle cx="1172.5" cy="212" r="4.6" fill="#fff" stroke="#0000f5" stroke-width="2"/>
<circle cx="1208.5" cy="206.75" r="4.6" fill="#fff" stroke="#0000f5" stroke-width="2"/>
<rect x="775.75" y="59.25" width="51.25" height="9.7" fill="#f0a0f8"/>
<text transform="translate(845 68.5) scale(1.09 1)" font-size="15.3" fill="#505050" font-family='"Liberation Sans","Noto Sans CJK JP",sans-serif' font-weight="500" letter-spacing="1.12" word-spacing="0.2" xml:space="preserve">横浜･川崎市 件数</text>
<rect x="1006.1" y="59.25" width="50.15" height="9.7" fill="#0000f5"/>
<text transform="translate(1075 68.5) scale(1.09 1)" font-size="15.3" fill="#505050" font-family='"Liberation Sans","Noto Sans CJK JP",sans-serif' font-weight="500" letter-spacing="1.12" word-spacing="0.2" xml:space="preserve">神奈川県他 件数</text>
<line x1="776.5" y1="87.6" x2="826.7" y2="87.6" stroke="#f03cf0" stroke-width="3.2" stroke-linecap="round"/>
<circle cx="800.2" cy="87.6" r="4.6" fill="#fff" stroke="#f03cf0" stroke-width="2"/>
<text transform="translate(845 92.2) scale(1.09 1)" font-size="15.3" fill="#505050" font-family='"Liberation Sans","Noto Sans CJK JP",sans-serif' font-weight="500" letter-spacing="1.12" word-spacing="0.2" xml:space="preserve">横浜･川崎市 価格</text>
<line x1="1006" y1="87.6" x2="1056.2" y2="87.6" stroke="#0000f5" stroke-width="3.2" stroke-linecap="round"/>
<circle cx="1030.7" cy="87.6" r="4.6" fill="#fff" stroke="#0000f5" stroke-width="2"/>
<text transform="translate(1075 92.2) scale(1.09 1)" font-size="15.3" fill="#505050" font-family='"Liberation Sans","Noto Sans CJK JP",sans-serif' font-weight="500" letter-spacing="1.12" word-spacing="0.2" xml:space="preserve">神奈川県他 価格</text>
<line x1="776.5" y1="110.3" x2="826.7" y2="110.3" stroke="#7f7f7f" stroke-width="3.2" stroke-linecap="round"/>
<circle cx="800.2" cy="110.3" r="4.6" fill="#fff" stroke="#7f7f7f" stroke-width="2"/>
<text transform="translate(833.5 114.2) scale(1.09 1)" font-size="15.3" fill="#505050" font-family='"Liberation Sans","Noto Sans CJK JP",sans-serif' font-weight="500" letter-spacing="1.12" word-spacing="0.2" xml:space="preserve">首都圏 価格</text>
</g>
<g>
<text transform="translate(31 462.8) scale(1.05 1)" font-size="26.9" fill="#000" font-family='"Liberation Sans","Noto Sans CJK JP",sans-serif' font-weight="bold" letter-spacing="1.72" word-spacing="0.9" xml:space="preserve">埼玉県 中古戸建住宅成約価格</text>
<rect x="25" y="467" width="623" height="4" fill="#0422c0"/>
<rect x="25" y="468" width="623" height="2" fill="#1232c4"/>
<rect x="106.85" y="651.25" width="23.9" height="124.85" fill="#94faa0"/>
<rect x="142.72" y="646" width="23.9" height="130.1" fill="#94faa0"/>
<rect x="178.59" y="650" width="23.9" height="126.1" fill="#94faa0"/>
<rect x="214.46" y="650" width="23.9" height="126.1" fill="#94faa0"/>
<rect x="250.33" y="653.25" width="23.9" height="122.85" fill="#94faa0"/>
<rect x="286.2" y="649" width="23.9" height="127.1" fill="#94faa0"/>
<rect x="322.07" y="637.75" width="23.9" height="138.35" fill="#94faa0"/>
<rect x="357.94" y="640.25" width="23.9" height="135.85" fill="#94faa0"/>
<rect x="393.81" y="642.25" width="23.9" height="133.85" fill="#94faa0"/>
<rect x="429.68" y="635.75" width="23.9" height="140.35" fill="#94faa0"/>
<rect x="465.55" y="574.5" width="23.9" height="201.6" fill="#94faa0"/>
<rect x="501.42" y="541.75" width="23.9" height="234.35" fill="#94faa0"/>
<rect x="537.29" y="542.75" width="23.9" height="233.35" fill="#94faa0"/>
<path d="M101.1 514.2V776.7M567 514.2V776.7M100.3 776.7H567.8" stroke="#bfbfbf" stroke-width="1.6" fill="none"/>
<path d="M101.1 776.7h6.7M101.1 733.08h6.7M101.1 689.47h6.7M101.1 645.85h6.7M101.1 602.23h6.7M101.1 558.62h6.7M101.1 515h6.7M567 776.7h-6.7M567 739.31h-6.7M567 701.93h-6.7M567 664.54h-6.7M567 627.16h-6.7M567 589.77h-6.7M567 552.39h-6.7M567 515h-6.7" stroke="#bfbfbf" stroke-width="1.5" fill="none"/>
<text x="78.8" y="784.8" font-size="21.5" fill="#505050" font-family='"Liberation Sans","Noto Sans CJK JP",sans-serif' text-anchor="end" stroke="#505050" stroke-width="0.25">0</text>
<text x="78.8" y="741.18" font-size="21.5" fill="#505050" font-family='"Liberation Sans","Noto Sans CJK JP",sans-serif' text-anchor="end" stroke="#505050" stroke-width="0.25">1000</text>
<text x="78.8" y="697.57" font-size="21.5" fill="#505050" font-family='"Liberation Sans","Noto Sans CJK JP",sans-serif' text-anchor="end" stroke="#505050" stroke-width="0.25">2000</text>
<text x="78.8" y="653.95" font-size="21.5" fill="#505050" font-family='"Liberation Sans","Noto Sans CJK JP",sans-serif' text-anchor="end" stroke="#505050" stroke-width="0.25">3000</text>
<text x="78.8" y="610.33" font-size="21.5" fill="#505050" font-family='"Liberation Sans","Noto Sans CJK JP",sans-serif' text-anchor="end" stroke="#505050" stroke-width="0.25">4000</text>
<text x="78.8" y="566.72" font-size="21.5" fill="#505050" font-family='"Liberation Sans","Noto Sans CJK JP",sans-serif' text-anchor="end" stroke="#505050" stroke-width="0.25">5000</text>
<text x="78.8" y="523.1" font-size="21.5" fill="#505050" font-family='"Liberation Sans","Noto Sans CJK JP",sans-serif' text-anchor="end" stroke="#505050" stroke-width="0.25">6000</text>
<text x="590" y="785" font-size="21.5" fill="#505050" font-family='"Liberation Sans","Noto Sans CJK JP",sans-serif' stroke="#505050" stroke-width="0.25">0</text>
<text x="590" y="747.61" font-size="21.5" fill="#505050" font-family='"Liberation Sans","Noto Sans CJK JP",sans-serif' stroke="#505050" stroke-width="0.25">200</text>
<text x="590" y="710.23" font-size="21.5" fill="#505050" font-family='"Liberation Sans","Noto Sans CJK JP",sans-serif' stroke="#505050" stroke-width="0.25">400</text>
<text x="590" y="672.84" font-size="21.5" fill="#505050" font-family='"Liberation Sans","Noto Sans CJK JP",sans-serif' stroke="#505050" stroke-width="0.25">600</text>
<text x="590" y="635.46" font-size="21.5" fill="#505050" font-family='"Liberation Sans","Noto Sans CJK JP",sans-serif' stroke="#505050" stroke-width="0.25">800</text>
<text x="590" y="598.07" font-size="21.5" fill="#505050" font-family='"Liberation Sans","Noto Sans CJK JP",sans-serif' stroke="#505050" stroke-width="0.25">1<tspan dx="-0.7">,</tspan><tspan dx="-0.9">000</tspan></text>
<text x="590" y="560.69" font-size="21.5" fill="#505050" font-family='"Liberation Sans","Noto Sans CJK JP",sans-serif' stroke="#505050" stroke-width="0.25">1<tspan dx="-0.7">,</tspan><tspan dx="-0.9">200</tspan></text>
<text x="590" y="523.3" font-size="21.5" fill="#505050" font-family='"Liberation Sans","Noto Sans CJK JP",sans-serif' stroke="#505050" stroke-width="0.25">1<tspan dx="-0.7">,</tspan><tspan dx="-0.9">400</tspan></text>
<text transform="translate(28.1 494.3) scale(1.1 1)" font-size="13" fill="#505050" font-family='"Liberation Sans","Noto Sans CJK JP",sans-serif' font-weight="500" letter-spacing="0.95">（万円）</text>
<text transform="translate(585.7 493.3) scale(1.1 1)" font-size="13" fill="#505050" font-family='"Liberation Sans","Noto Sans CJK JP",sans-serif' font-weight="500" letter-spacing="0.95">（件）</text>
<text x="118.5" y="810.8" font-size="20.2" fill="#505050" font-family='"DejaVu Serif","Noto Serif CJK SC",serif' text-anchor="middle" stroke="#505050" stroke-width="0.2">Ⅲ</text>
<text x="154.37" y="810.8" font-size="20.2" fill="#505050" font-family='"DejaVu Serif","Noto Serif CJK SC",serif' text-anchor="middle" stroke="#505050" stroke-width="0.2">Ⅳ</text>
<text x="190.24" y="810.8" font-size="20.2" fill="#505050" font-family='"DejaVu Serif","Noto Serif CJK SC",serif' text-anchor="middle" stroke="#505050" stroke-width="0.2">Ⅰ</text>
<text x="226.11" y="810.8" font-size="20.2" fill="#505050" font-family='"DejaVu Serif","Noto Serif CJK SC",serif' text-anchor="middle" stroke="#505050" stroke-width="0.2">Ⅱ</text>
<text x="261.98" y="810.8" font-size="20.2" fill="#505050" font-family='"DejaVu Serif","Noto Serif CJK SC",serif' text-anchor="middle" stroke="#505050" stroke-width="0.2">Ⅲ</text>
<text x="297.85" y="810.8" font-size="20.2" fill="#505050" font-family='"DejaVu Serif","Noto Serif CJK SC",serif' text-anchor="middle" stroke="#505050" stroke-width="0.2">Ⅳ</text>
<text x="333.72" y="810.8" font-size="20.2" fill="#505050" font-family='"DejaVu Serif","Noto Serif CJK SC",serif' text-anchor="middle" stroke="#505050" stroke-width="0.2">Ⅰ</text>
<text x="369.59" y="810.8" font-size="20.2" fill="#505050" font-family='"DejaVu Serif","Noto Serif CJK SC",serif' text-anchor="middle" stroke="#505050" stroke-width="0.2">Ⅱ</text>
<text x="405.46" y="810.8" font-size="20.2" fill="#505050" font-family='"DejaVu Serif","Noto Serif CJK SC",serif' text-anchor="middle" stroke="#505050" stroke-width="0.2">Ⅲ</text>
<text x="441.33" y="810.8" font-size="20.2" fill="#505050" font-family='"DejaVu Serif","Noto Serif CJK SC",serif' text-anchor="middle" stroke="#505050" stroke-width="0.2">Ⅳ</text>
<text x="477.2" y="810.8" font-size="20.2" fill="#505050" font-family='"DejaVu Serif","Noto Serif CJK SC",serif' text-anchor="middle" stroke="#505050" stroke-width="0.2">Ⅰ</text>
<text x="513.07" y="810.8" font-size="20.2" fill="#505050" font-family='"DejaVu Serif","Noto Serif CJK SC",serif' text-anchor="middle" stroke="#505050" stroke-width="0.2">Ⅱ</text>
<text x="548.94" y="810.8" font-size="20.2" fill="#505050" font-family='"DejaVu Serif","Noto Serif CJK SC",serif' text-anchor="middle" stroke="#505050" stroke-width="0.2">Ⅲ</text>
<text x="118.1" y="835.7" font-size="18.9" fill="#505050" font-family='"Liberation Sans","Noto Sans CJK JP",sans-serif' text-anchor="middle" letter-spacing="0.45" stroke="#505050" stroke-width="0.2">2022</text>
<text x="189.84" y="835.7" font-size="18.9" fill="#505050" font-family='"Liberation Sans","Noto Sans CJK JP",sans-serif' text-anchor="middle" letter-spacing="0.45" stroke="#505050" stroke-width="0.2">2023</text>
<text x="333.32" y="835.7" font-size="18.9" fill="#505050" font-family='"Liberation Sans","Noto Sans CJK JP",sans-serif' text-anchor="middle" letter-spacing="0.45" stroke="#505050" stroke-width="0.2">2024</text>
<text x="477.4" y="837.1" font-size="18.9" fill="#505050" font-family='"Liberation Sans","Noto Sans CJK JP",sans-serif' text-anchor="middle" letter-spacing="0.45" stroke="#505050" stroke-width="0.2">2025<tspan font-size="19.2" dx="0.9" dy="-1">年</tspan></text>
<polyline points="118.25,609.9 154.06,611.15 189.87,607.65 225.68,612.15 261.49,608.9 297.3,606.65 333.11,603.65 368.92,603.15 404.73,605.65 440.54,605.65 476.35,604.4 512.16,607.65 547.97,605.9" fill="none" stroke="#7f7f7f" stroke-width="2.8" stroke-linejoin="round" stroke-linecap="round"/>
<circle cx="118.25" cy="609.9" r="4.6" fill="#fff" stroke="#7f7f7f" stroke-width="2"/>
<circle cx="154.06" cy="611.15" r="4.6" fill="#fff" stroke="#7f7f7f" stroke-width="2"/>
<circle cx="189.87" cy="607.65" r="4.6" fill="#fff" stroke="#7f7f7f" stroke-width="2"/>
<circle cx="225.68" cy="612.15" r="4.6" fill="#fff" stroke="#7f7f7f" stroke-width="2"/>
<circle cx="261.49" cy="608.9" r="4.6" fill="#fff" stroke="#7f7f7f" stroke-width="2"/>
<circle cx="297.3" cy="606.65" r="4.6" fill="#fff" stroke="#7f7f7f" stroke-width="2"/>
<circle cx="333.11" cy="603.65" r="4.6" fill="#fff" stroke="#7f7f7f" stroke-width="2"/>
<circle cx="368.92" cy="603.15" r="4.6" fill="#fff" stroke="#7f7f7f" stroke-width="2"/>
<circle cx="404.73" cy="605.65" r="4.6" fill="#fff" stroke="#7f7f7f" stroke-width="2"/>
<circle cx="440.54" cy="605.65" r="4.6" fill="#fff" stroke="#7f7f7f" stroke-width="2"/>
<circle cx="476.35" cy="604.4" r="4.6" fill="#fff" stroke="#7f7f7f" stroke-width="2"/>
<circle cx="512.16" cy="607.65" r="4.6" fill="#fff" stroke="#7f7f7f" stroke-width="2"/>
<circle cx="547.97" cy="605.9" r="4.6" fill="#fff" stroke="#7f7f7f" stroke-width="2"/>
<polyline points="118.25,664.75 154.06,663.5 189.87,661.25 225.68,663.75 261.49,662.5 297.3,663.5 333.11,661.25 368.92,668.75 404.73,665.5 440.54,669.5 476.35,668.75 512.16,668.75 547.97,667.75" fill="none" stroke="#5ac83c" stroke-width="2.8" stroke-linejoin="round" stroke-linecap="round"/>
<circle cx="118.25" cy="664.75" r="4.6" fill="#fff" stroke="#5ac83c" stroke-width="2"/>
<circle cx="154.06" cy="663.5" r="4.6" fill="#fff" stroke="#5ac83c" stroke-width="2"/>
<circle cx="189.87" cy="661.25" r="4.6" fill="#fff" stroke="#5ac83c" stroke-width="2"/>
<circle cx="225.68" cy="663.75" r="4.6" fill="#fff" stroke="#5ac83c" stroke-width="2"/>
<circle cx="261.49" cy="662.5" r="4.6" fill="#fff" stroke="#5ac83c" stroke-width="2"/>
<circle cx="297.3" cy="663.5" r="4.6" fill="#fff" stroke="#5ac83c" stroke-width="2"/>
<circle cx="333.11" cy="661.25" r="4.6" fill="#fff" stroke="#5ac83c" stroke-width="2"/>
<circle cx="368.92" cy="668.75" r="4.6" fill="#fff" stroke="#5ac83c" stroke-width="2"/>
<circle cx="404.73" cy="665.5" r="4.6" fill="#fff" stroke="#5ac83c" stroke-width="2"/>
<circle cx="440.54" cy="669.5" r="4.6" fill="#fff" stroke="#5ac83c" stroke-width="2"/>
<circle cx="476.35" cy="668.75" r="4.6" fill="#fff" stroke="#5ac83c" stroke-width="2"/>
<circle cx="512.16" cy="668.75" r="4.6" fill="#fff" stroke="#5ac83c" stroke-width="2"/>
<circle cx="547.97" cy="667.75" r="4.6" fill="#fff" stroke="#5ac83c" stroke-width="2"/>
<rect x="133.9" y="495.1" width="51.1" height="9.8" fill="#94faa0"/>
<text transform="translate(202.2 505.5) scale(1.09 1)" font-size="15.3" fill="#505050" font-family='"Liberation Sans","Noto Sans CJK JP",sans-serif' font-weight="500" letter-spacing="1.12" word-spacing="0.2" xml:space="preserve">埼玉県 件数</text>
<line x1="358.5" y1="499" x2="408.2" y2="499" stroke="#5ac83c" stroke-width="2.8" stroke-linecap="round"/>
<circle cx="382.2" cy="499" r="4.6" fill="#fff" stroke="#5ac83c" stroke-width="2"/>
<text transform="translate(427 504.5) scale(1.09 1)" font-size="15.3" fill="#505050" font-family='"Liberation Sans","Noto Sans CJK JP",sans-serif' font-weight="500" letter-spacing="1.12" word-spacing="0.2" xml:space="preserve">埼玉県 価格</text>
<line x1="134" y1="525.75" x2="184.2" y2="525.75" stroke="#7f7f7f" stroke-width="2.8" stroke-linecap="round"/>
<circle cx="158.7" cy="525.75" r="4.6" fill="#fff" stroke="#7f7f7f" stroke-width="2"/>
<text transform="translate(191.25 531.25) scale(1.09 1)" font-size="15.3" fill="#505050" font-family='"Liberation Sans","Noto Sans CJK JP",sans-serif' font-weight="500" letter-spacing="1.12" word-spacing="0.2" xml:space="preserve">首都圏 価格</text>
</g>
<g>
<text transform="translate(692 462.8) scale(1.05 1)" font-size="26.9" fill="#000" font-family='"Liberation Sans","Noto Sans CJK JP",sans-serif' font-weight="bold" letter-spacing="1.72" word-spacing="0.9" xml:space="preserve">千葉県 中古戸建住宅成約価格</text>
<rect x="686" y="467" width="623" height="4" fill="#0422c0"/>
<rect x="686" y="468" width="623" height="2" fill="#1232c4"/>
<rect x="764.7" y="649.25" width="24" height="125.65" fill="#a6caf8"/>
<rect x="800.78" y="639.25" width="24" height="135.65" fill="#a6caf8"/>
<rect x="836.86" y="649.25" width="24" height="125.65" fill="#a6caf8"/>
<rect x="872.94" y="646" width="24" height="128.9" fill="#a6caf8"/>
<rect x="909.02" y="655.5" width="24" height="119.4" fill="#a6caf8"/>
<rect x="945.1" y="642.5" width="24" height="132.4" fill="#a6caf8"/>
<rect x="981.18" y="636" width="24" height="138.9" fill="#a6caf8"/>
<rect x="1017.26" y="635.75" width="24" height="139.15" fill="#a6caf8"/>
<rect x="1053.34" y="634.75" width="24" height="140.15" fill="#a6caf8"/>
<rect x="1089.42" y="632.75" width="24" height="142.15" fill="#a6caf8"/>
<rect x="1125.5" y="579.4" width="24" height="195.5" fill="#a6caf8"/>
<rect x="1161.58" y="567.7" width="24" height="207.2" fill="#a6caf8"/>
<rect x="1197.66" y="578.4" width="24" height="196.5" fill="#a6caf8"/>
<path d="M759.1 514.2V775.5M1227.1 514.2V775.5M758.3 775.5H1227.9" stroke="#bfbfbf" stroke-width="1.6" fill="none"/>
<path d="M759.1 775.5h6.7M759.1 732.08h6.7M759.1 688.67h6.7M759.1 645.25h6.7M759.1 601.83h6.7M759.1 558.42h6.7M759.1 515h6.7M1227.1 775.5h-6.7M1227.1 738.29h-6.7M1227.1 701.07h-6.7M1227.1 663.86h-6.7M1227.1 626.64h-6.7M1227.1 589.43h-6.7M1227.1 552.21h-6.7M1227.1 515h-6.7" stroke="#bfbfbf" stroke-width="1.5" fill="none"/>
<text x="737.5" y="783.3" font-size="21.5" fill="#505050" font-family='"Liberation Sans","Noto Sans CJK JP",sans-serif' text-anchor="end" stroke="#505050" stroke-width="0.25">0</text>
<text x="737.5" y="739.88" font-size="21.5" fill="#505050" font-family='"Liberation Sans","Noto Sans CJK JP",sans-serif' text-anchor="end" stroke="#505050" stroke-width="0.25">1000</text>
<text x="737.5" y="696.47" font-size="21.5" fill="#505050" font-family='"Liberation Sans","Noto Sans CJK JP",sans-serif' text-anchor="end" stroke="#505050" stroke-width="0.25">2000</text>
<text x="737.5" y="653.05" font-size="21.5" fill="#505050" font-family='"Liberation Sans","Noto Sans CJK JP",sans-serif' text-anchor="end" stroke="#505050" stroke-width="0.25">3000</text>
<text x="737.5" y="609.63" font-size="21.5" fill="#505050" font-family='"Liberation Sans","Noto Sans CJK JP",sans-serif' text-anchor="end" stroke="#505050" stroke-width="0.25">4000</text>
<text x="737.5" y="566.22" font-size="21.5" fill="#505050" font-family='"Liberation Sans","Noto Sans CJK JP",sans-serif' text-anchor="end" stroke="#505050" stroke-width="0.25">5000</text>
<text x="737.5" y="522.8" font-size="21.5" fill="#505050" font-family='"Liberation Sans","Noto Sans CJK JP",sans-serif' text-anchor="end" stroke="#505050" stroke-width="0.25">6000</text>
<text x="1250" y="783.8" font-size="21.5" fill="#505050" font-family='"Liberation Sans","Noto Sans CJK JP",sans-serif' stroke="#505050" stroke-width="0.25">0</text>
<text x="1250" y="746.59" font-size="21.5" fill="#505050" font-family='"Liberation Sans","Noto Sans CJK JP",sans-serif' stroke="#505050" stroke-width="0.25">200</text>
<text x="1250" y="709.37" font-size="21.5" fill="#505050" font-family='"Liberation Sans","Noto Sans CJK JP",sans-serif' stroke="#505050" stroke-width="0.25">400</text>
<text x="1250" y="672.16" font-size="21.5" fill="#505050" font-family='"Liberation Sans","Noto Sans CJK JP",sans-serif' stroke="#505050" stroke-width="0.25">600</text>
<text x="1250" y="634.94" font-size="21.5" fill="#505050" font-family='"Liberation Sans","Noto Sans CJK JP",sans-serif' stroke="#505050" stroke-width="0.25">800</text>
<text x="1250" y="597.73" font-size="21.5" fill="#505050" font-family='"Liberation Sans","Noto Sans CJK JP",sans-serif' stroke="#505050" stroke-width="0.25">1<tspan dx="-0.7">,</tspan><tspan dx="-0.9">000</tspan></text>
<text x="1250" y="560.51" font-size="21.5" fill="#505050" font-family='"Liberation Sans","Noto Sans CJK JP",sans-serif' stroke="#505050" stroke-width="0.25">1<tspan dx="-0.7">,</tspan><tspan dx="-0.9">200</tspan></text>
<text x="1250" y="523.3" font-size="21.5" fill="#505050" font-family='"Liberation Sans","Noto Sans CJK JP",sans-serif' stroke="#505050" stroke-width="0.25">1<tspan dx="-0.7">,</tspan><tspan dx="-0.9">400</tspan></text>
<text transform="translate(685.9 494.3) scale(1.1 1)" font-size="13" fill="#505050" font-family='"Liberation Sans","Noto Sans CJK JP",sans-serif' font-weight="500" letter-spacing="0.95">（万円）</text>
<text transform="translate(1247.8 492.9) scale(1.1 1)" font-size="13" fill="#505050" font-family='"Liberation Sans","Noto Sans CJK JP",sans-serif' font-weight="500" letter-spacing="0.95">（件）</text>
<text x="776.5" y="808.6" font-size="20.2" fill="#505050" font-family='"DejaVu Serif","Noto Serif CJK SC",serif' text-anchor="middle" stroke="#505050" stroke-width="0.2">Ⅲ</text>
<text x="812.58" y="808.6" font-size="20.2" fill="#505050" font-family='"DejaVu Serif","Noto Serif CJK SC",serif' text-anchor="middle" stroke="#505050" stroke-width="0.2">Ⅳ</text>
<text x="848.66" y="808.6" font-size="20.2" fill="#505050" font-family='"DejaVu Serif","Noto Serif CJK SC",serif' text-anchor="middle" stroke="#505050" stroke-width="0.2">Ⅰ</text>
<text x="884.74" y="808.6" font-size="20.2" fill="#505050" font-family='"DejaVu Serif","Noto Serif CJK SC",serif' text-anchor="middle" stroke="#505050" stroke-width="0.2">Ⅱ</text>
<text x="920.82" y="808.6" font-size="20.2" fill="#505050" font-family='"DejaVu Serif","Noto Serif CJK SC",serif' text-anchor="middle" stroke="#505050" stroke-width="0.2">Ⅲ</text>
<text x="956.9" y="808.6" font-size="20.2" fill="#505050" font-family='"DejaVu Serif","Noto Serif CJK SC",serif' text-anchor="middle" stroke="#505050" stroke-width="0.2">Ⅳ</text>
<text x="992.98" y="808.6" font-size="20.2" fill="#505050" font-family='"DejaVu Serif","Noto Serif CJK SC",serif' text-anchor="middle" stroke="#505050" stroke-width="0.2">Ⅰ</text>
<text x="1029.06" y="808.6" font-size="20.2" fill="#505050" font-family='"DejaVu Serif","Noto Serif CJK SC",serif' text-anchor="middle" stroke="#505050" stroke-width="0.2">Ⅱ</text>
<text x="1065.14" y="808.6" font-size="20.2" fill="#505050" font-family='"DejaVu Serif","Noto Serif CJK SC",serif' text-anchor="middle" stroke="#505050" stroke-width="0.2">Ⅲ</text>
<text x="1101.22" y="808.6" font-size="20.2" fill="#505050" font-family='"DejaVu Serif","Noto Serif CJK SC",serif' text-anchor="middle" stroke="#505050" stroke-width="0.2">Ⅳ</text>
<text x="1137.3" y="808.6" font-size="20.2" fill="#505050" font-family='"DejaVu Serif","Noto Serif CJK SC",serif' text-anchor="middle" stroke="#505050" stroke-width="0.2">Ⅰ</text>
<text x="1173.38" y="808.6" font-size="20.2" fill="#505050" font-family='"DejaVu Serif","Noto Serif CJK SC",serif' text-anchor="middle" stroke="#505050" stroke-width="0.2">Ⅱ</text>
<text x="1209.46" y="808.6" font-size="20.2" fill="#505050" font-family='"DejaVu Serif","Noto Serif CJK SC",serif' text-anchor="middle" stroke="#505050" stroke-width="0.2">Ⅲ</text>
<text x="776.1" y="835.2" font-size="18.9" fill="#505050" font-family='"Liberation Sans","Noto Sans CJK JP",sans-serif' text-anchor="middle" letter-spacing="0.45" stroke="#505050" stroke-width="0.2">2022</text>
<text x="848.26" y="835.2" font-size="18.9" fill="#505050" font-family='"Liberation Sans","Noto Sans CJK JP",sans-serif' text-anchor="middle" letter-spacing="0.45" stroke="#505050" stroke-width="0.2">2023</text>
<text x="992.58" y="835.2" font-size="18.9" fill="#505050" font-family='"Liberation Sans","Noto Sans CJK JP",sans-serif' text-anchor="middle" letter-spacing="0.45" stroke="#505050" stroke-width="0.2">2024</text>
<text x="1137.5" y="836.6" font-size="18.9" fill="#505050" font-family='"Liberation Sans","Noto Sans CJK JP",sans-serif' text-anchor="middle" letter-spacing="0.45" stroke="#505050" stroke-width="0.2">2025<tspan font-size="19.2" dx="0.9" dy="-1">年</tspan></text>
<polyline points="776.25,610 812.28,610 848.31,607 884.34,611.25 920.37,608.25 956.4,606 992.43,603.5 1028.46,602.75 1064.49,604.75 1100.52,604.75 1136.55,604.5 1172.58,607.25 1208.61,606" fill="none" stroke="#7f7f7f" stroke-width="2.8" stroke-linejoin="round" stroke-linecap="round"/>
<circle cx="776.25" cy="610" r="4.6" fill="#fff" stroke="#7f7f7f" stroke-width="2"/>
<circle cx="812.28" cy="610" r="4.6" fill="#fff" stroke="#7f7f7f" stroke-width="2"/>
<circle cx="848.31" cy="607" r="4.6" fill="#fff" stroke="#7f7f7f" stroke-width="2"/>
<circle cx="884.34" cy="611.25" r="4.6" fill="#fff" stroke="#7f7f7f" stroke-width="2"/>
<circle cx="920.37" cy="608.25" r="4.6" fill="#fff" stroke="#7f7f7f" stroke-width="2"/>
<circle cx="956.4" cy="606" r="4.6" fill="#fff" stroke="#7f7f7f" stroke-width="2"/>
<circle cx="992.43" cy="603.5" r="4.6" fill="#fff" stroke="#7f7f7f" stroke-width="2"/>
<circle cx="1028.46" cy="602.75" r="4.6" fill="#fff" stroke="#7f7f7f" stroke-width="2"/>
<circle cx="1064.49" cy="604.75" r="4.6" fill="#fff" stroke="#7f7f7f" stroke-width="2"/>
<circle cx="1100.52" cy="604.75" r="4.6" fill="#fff" stroke="#7f7f7f" stroke-width="2"/>
<circle cx="1136.55" cy="604.5" r="4.6" fill="#fff" stroke="#7f7f7f" stroke-width="2"/>
<circle cx="1172.58" cy="607.25" r="4.6" fill="#fff" stroke="#7f7f7f" stroke-width="2"/>
<circle cx="1208.61" cy="606" r="4.6" fill="#fff" stroke="#7f7f7f" stroke-width="2"/>
<polyline points="776.25,668.75 812.28,666 848.31,666 884.34,668.75 920.37,664.75 956.4,659.5 992.43,664.75 1028.46,663.5 1064.49,662.25 1100.52,660.5 1136.55,667.5 1172.58,667.5 1208.61,662.25" fill="none" stroke="#7098f6" stroke-width="2.8" stroke-linejoin="round" stroke-linecap="round"/>
<circle cx="776.25" cy="668.75" r="4.6" fill="#fff" stroke="#7098f6" stroke-width="2"/>
<circle cx="812.28" cy="666" r="4.6" fill="#fff" stroke="#7098f6" stroke-width="2"/>
<circle cx="848.31" cy="666" r="4.6" fill="#fff" stroke="#7098f6" stroke-width="2"/>
<circle cx="884.34" cy="668.75" r="4.6" fill="#fff" stroke="#7098f6" stroke-width="2"/>
<circle cx="920.37" cy="664.75" r="4.6" fill="#fff" stroke="#7098f6" stroke-width="2"/>
<circle cx="956.4" cy="659.5" r="4.6" fill="#fff" stroke="#7098f6" stroke-width="2"/>
<circle cx="992.43" cy="664.75" r="4.6" fill="#fff" stroke="#7098f6" stroke-width="2"/>
<circle cx="1028.46" cy="663.5" r="4.6" fill="#fff" stroke="#7098f6" stroke-width="2"/>
<circle cx="1064.49" cy="662.25" r="4.6" fill="#fff" stroke="#7098f6" stroke-width="2"/>
<circle cx="1100.52" cy="660.5" r="4.6" fill="#fff" stroke="#7098f6" stroke-width="2"/>
<circle cx="1136.55" cy="667.5" r="4.6" fill="#fff" stroke="#7098f6" stroke-width="2"/>
<circle cx="1172.58" cy="667.5" r="4.6" fill="#fff" stroke="#7098f6" stroke-width="2"/>
<circle cx="1208.61" cy="662.25" r="4.6" fill="#fff" stroke="#7098f6" stroke-width="2"/>
<rect x="799.8" y="493.4" width="51.2" height="9.6" fill="#a6caf8"/>
<text transform="translate(869.5 503.7) scale(1.09 1)" font-size="15.3" fill="#505050" font-family='"Liberation Sans","Noto Sans CJK JP",sans-serif' font-weight="500" letter-spacing="1.12" word-spacing="0.2" xml:space="preserve">千葉県 件数</text>
<line x1="1028" y1="497.75" x2="1078.7" y2="497.75" stroke="#7098f6" stroke-width="2.8" stroke-linecap="round"/>
<circle cx="1053.2" cy="497.75" r="4.6" fill="#fff" stroke="#7098f6" stroke-width="2"/>
<text transform="translate(1097.5 503.25) scale(1.09 1)" font-size="15.3" fill="#505050" font-family='"Liberation Sans","Noto Sans CJK JP",sans-serif' font-weight="500" letter-spacing="1.12" word-spacing="0.2" xml:space="preserve">千葉県 価格</text>
<line x1="801" y1="528.3" x2="851.2" y2="528.3" stroke="#7f7f7f" stroke-width="2.8" stroke-linecap="round"/>
<circle cx="824.7" cy="528.3" r="4.6" fill="#fff" stroke="#7f7f7f" stroke-width="2"/>
<text transform="translate(858.25 533.8) scale(1.09 1)" font-size="15.3" fill="#505050" font-family='"Liberation Sans","Noto Sans CJK JP",sans-serif' font-weight="500" letter-spacing="1.12" word-spacing="0.2" xml:space="preserve">首都圏 価格</text>
</g>
<path d="M1308.5 0.1v1.8M1308.5 69.7v1.8M1308.5 104.5v1.8M1308.5 139.3v1.8M1308.5 174.1v1.8M1308.5 208.9v1.8M1308.5 243.7v1.8M1308.5 278.5v1.8M1308.5 313.3v1.8M1308.5 348.1v1.8M1308.5 382.9v1.8M1308.5 417.7v1.8M1308.5 434.3v1.8M1308.5 502.9v1.8M1308.5 537.2v1.8M1308.5 571.5v1.8M1308.5 605.8v1.8M1308.5 640.1v1.8M1308.5 674.4v1.8M1308.5 708.7v1.8M1308.5 743v1.8M1308.5 777.3v1.8M1308.5 811.6v1.8M1308.5 845.9v1.8M25.2 847.3h1.8M180.7 847.3h1.8M336.2 847.3h1.8M491.7 847.3h1.8M647.2 847.3h1.8M802.7 847.3h1.8M958.2 847.3h1.8M1113.7 847.3h1.8M1269.2 847.3h1.8" stroke="#e3e3e3" stroke-width="1" fill="none"/>
</svg></body></html>
